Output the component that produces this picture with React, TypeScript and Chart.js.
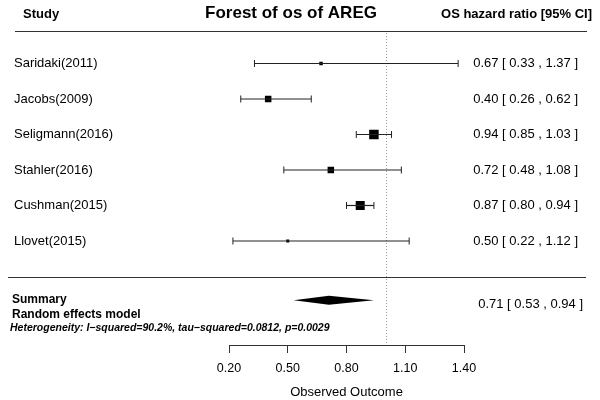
import React, { useEffect, useRef } from "react";
import { Chart, registerables } from "chart.js";

Chart.register(...registerables);

// ---- data ----
const studies = ["Saridaki(2011)", "Jacobs(2009)", "Seligmann(2016)", "Stahler(2016)", "Cushman(2015)", "Llovet(2015)"];
const hazardRatio = [0.67, 0.4, 0.94, 0.72, 0.87, 0.5];
const lowerCI = [0.33, 0.26, 0.85, 0.48, 0.8, 0.22];
const upperCI = [1.37, 0.62, 1.03, 1.08, 0.94, 1.12];
const studyWeights = [3.5, 6.5, 9.5, 6.5, 9, 3];
const summaryEstimate = 0.71;
const summaryLower = 0.53;
const summaryUpper = 0.94;
const tickValues = [0.2, 0.5, 0.8, 1.1, 1.4];
const referenceValue = 1.0;
const titleText = "Forest of os of AREG";
const studyHeader = "Study";
const valueHeader = "OS hazard ratio [95% CI]";
const xAxisTitle = "Observed Outcome";
const summaryLabel1 = "Summary";
const summaryLabel2 = "Random effects model";
const heterogeneityText = "Heterogeneity: I\u2212squared=90.2%, tau\u2212squared=0.0812, p=0.0029";

const FONT = '"Liberation Sans", Arial, Helvetica, sans-serif';
const SUMMARY_ROW = 7.67;
const fmt = (v: number) => v.toFixed(2);

const forestPlugin = {
  id: "forestDecor",
  beforeDatasetsDraw(chart: any) {
    const { ctx } = chart;
    const xs = chart.scales.x;
    const px = xs.getPixelForValue(referenceValue);
    ctx.save();
    ctx.strokeStyle = "#999";
    ctx.lineWidth = 1;
    ctx.setLineDash([1, 2]);
    ctx.beginPath();
    ctx.moveTo(Math.round(px) + 0.5, 33);
    ctx.lineTo(Math.round(px) + 0.5, 345);
    ctx.stroke();
    ctx.restore();
  },
  afterDatasetsDraw(chart: any) {
    const { ctx } = chart;
    const xs = chart.scales.x;
    const ys = chart.scales.y;
    ctx.save();
    // rules
    ctx.strokeStyle = "#333";
    ctx.lineWidth = 1;
    ctx.beginPath();
    ctx.moveTo(15, 31.5);
    ctx.lineTo(587, 31.5);
    ctx.moveTo(8, 277.5);
    ctx.lineTo(586, 277.5);
    ctx.stroke();

    // headers
    ctx.fillStyle = "#000";
    ctx.textBaseline = "middle";
    ctx.font = `bold 13px ${FONT}`;
    ctx.textAlign = "left";
    ctx.fillText(studyHeader, 23, 14);
    ctx.textAlign = "right";
    ctx.fillText(valueHeader, 592, 14);
    ctx.font = `bold 17px ${FONT}`;
    ctx.textAlign = "center";
    ctx.fillText(titleText, 291, 13.5);

    // study labels and values
    ctx.font = `13px ${FONT}`;
    studies.forEach((s, i) => {
      const y = ys.getPixelForValue(i + 1);
      ctx.textAlign = "left";
      ctx.fillText(s, 14, y);
      ctx.textAlign = "right";
      ctx.fillText(`${fmt(hazardRatio[i])} [ ${fmt(lowerCI[i])} , ${fmt(upperCI[i])} ]`, 578, y);
    });

    // summary diamond
    const yS = ys.getPixelForValue(SUMMARY_ROW);
    ctx.fillStyle = "#000";
    ctx.beginPath();
    ctx.moveTo(xs.getPixelForValue(summaryLower), yS);
    ctx.lineTo(xs.getPixelForValue(summaryEstimate), yS - 4.5);
    ctx.lineTo(xs.getPixelForValue(summaryUpper), yS);
    ctx.lineTo(xs.getPixelForValue(summaryEstimate), yS + 4.5);
    ctx.closePath();
    ctx.fill();

    ctx.textAlign = "right";
    ctx.font = `13px ${FONT}`;
    ctx.fillText(`${fmt(summaryEstimate)} [ ${fmt(summaryLower)} , ${fmt(summaryUpper)} ]`, 583, yS + 4);

    ctx.textAlign = "left";
    ctx.font = `bold 12px ${FONT}`;
    ctx.fillText(summaryLabel1, 12, 299.5);
    ctx.fillText(summaryLabel2, 12, 315);
    ctx.font = `italic bold 10.5px ${FONT}`;
    ctx.fillText(heterogeneityText, 10, 328);
    ctx.restore();
  },
};

export default function App() {
  const ref = useRef<HTMLCanvasElement | null>(null);
  useEffect(() => {
    if (!ref.current) return;
    const ciDatasets = studies.map((_, i) => ({
      type: "line" as const,
      data: [
        { x: lowerCI[i], y: i + 1 },
        { x: upperCI[i], y: i + 1 },
      ],
      borderColor: "#222",
      borderWidth: 1.2,
      pointStyle: "line",
      pointRotation: 90,
      pointRadius: 3.5,
      pointBorderColor: "#222",
      pointBorderWidth: 1,
      fill: false,
    }));
    const squares = {
      type: "scatter" as const,
      data: studies.map((_, i) => ({ x: hazardRatio[i], y: i + 1 })),
      pointStyle: "rect",
      pointRadius: studyWeights.map((w) => w / Math.SQRT2),
      backgroundColor: "#000",
      borderWidth: 0,
      pointBorderWidth: 0,
    };
    const chart = new Chart(ref.current, {
      type: "scatter",
      data: { datasets: [...ciDatasets, squares] as any },
      options: {
        responsive: false,
        animation: false,
        events: [],
        layout: { padding: { left: 229, right: 136, top: 28, bottom: 0 } },
        plugins: { legend: { display: false }, tooltip: { enabled: false }, title: { display: false } },
        scales: {
          x: {
            type: "linear",
            position: "bottom",
            min: tickValues[0],
            max: tickValues[tickValues.length - 1],
            afterBuildTicks: (scale: any) => {
              scale.ticks = tickValues.map((v) => ({ value: v }));
            },
            afterFit: (scale: any) => {
              scale.height = 55;
            },
            grid: { display: true, drawOnChartArea: false, drawTicks: true, tickLength: 8, color: "#333", lineWidth: 1 },
            border: { display: true, color: "#333", width: 1 },
            ticks: {
              padding: 8.5,
              color: "#000",
              font: { family: FONT, size: 12.5 },
              maxRotation: 0,
              autoSkip: false,
              callback: (v: any) => Number(v).toFixed(2),
            },
            title: { display: true, text: xAxisTitle, color: "#000", font: { family: FONT, size: 13 }, padding: { top: 0, bottom: 0 } },
          },
          y: {
            type: "linear",
            display: false,
            reverse: true,
            min: 0,
            max: 8.93,
          },
        },
      } as any,
      plugins: [forestPlugin],
    });
    return () => chart.destroy();
  }, []);
  return (
    <div style={{ position: "fixed", left: 0, top: 0, width: 600, height: 400, background: "#fff" }}>
      <canvas ref={ref} width={600} height={400} style={{ width: 600, height: 400, display: "block" }} />
    </div>
  );
}
